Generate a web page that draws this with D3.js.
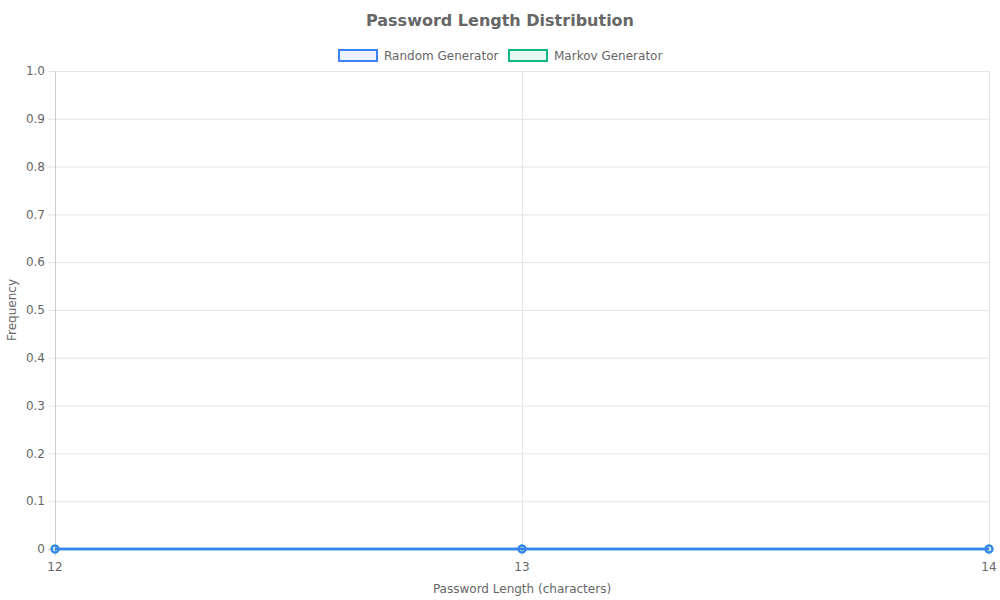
<!DOCTYPE html>
<html><head><meta charset="utf-8">
<script src="https://cdn.jsdelivr.net/npm/d3@7"></script>
<style>body{margin:0;background:#fff;}svg{display:block;font-family:"DejaVu Sans",sans-serif;}</style>
</head><body>
<svg id="c" width="1000" height="600"></svg>
<script>
const categories = [12, 13, 14];
const randomValues = [0, 0, 0];
const markovValues = [0, 0, 0];
const yTicks = [0, 0.1, 0.2, 0.3, 0.4, 0.5, 0.6, 0.7, 0.8, 0.9, 1.0];
const seriesNames = ["Random Generator", "Markov Generator"];
const seriesColors = ["#3b82f6", "#10b981"];
const seriesFills = ["rgba(59,130,246,0.1)", "rgba(16,185,129,0.1)"];

const svg = d3.select("#c");
const L = 55, R = 989, T = 71, B = 549;
const x = d3.scaleLinear().domain([12, 14]).range([L, R]);
const y = d3.scaleLinear().domain([0, 1]).range([B, T]);
const txt = "#666";

// grid
const gy = svg.append("g");
yTicks.forEach(t => {
  gy.append("line").attr("x1", L - 7).attr("x2", R).attr("y1", y(t) + 0.5).attr("y2", y(t) + 0.5)
    .attr("stroke", t === 0 ? "#ccc" : "#e5e5e5").attr("stroke-width", 1);
  gy.append("text").attr("x", L - 10).attr("y", y(t)).attr("dy", "0.35em").attr("text-anchor", "end")
    .attr("font-size", 12).attr("fill", txt).text(t === 0 ? "0" : t.toFixed(1));
});
categories.forEach(c => {
  svg.append("line").attr("x1", x(c) + 0.5).attr("x2", x(c) + 0.5).attr("y1", T).attr("y2", B + 7)
    .attr("stroke", c === 12 ? "#ccc" : "#e5e5e5");
  svg.append("text").attr("x", x(c)).attr("y", B + 18).attr("dy", "0.35em").attr("text-anchor", "middle")
    .attr("font-size", 12).attr("fill", txt).text(c);
});

// series (markov first so random on top)
const data = [randomValues, markovValues];
[1, 0].forEach(i => {
  const pts = categories.map((c, j) => [c, data[i][j]]);
  svg.append("path").datum(pts)
    .attr("d", d3.line().x(d => x(d[0])).y(d => y(d[1])))
    .attr("fill", "none").attr("stroke", seriesColors[i]).attr("stroke-width", 2.5);
  svg.selectAll(null).data(pts).enter().append("circle")
    .attr("cx", d => x(d[0])).attr("cy", d => y(d[1])).attr("r", 3.5)
    .attr("fill", seriesFills[i]).attr("stroke", seriesColors[i]).attr("stroke-width", 2);
});

// title
svg.append("text").attr("x", 500).attr("y", 20).attr("dy", "0.35em").attr("text-anchor", "middle")
  .attr("font-size", 16).attr("font-weight", "bold").attr("fill", txt).text("Password Length Distribution");

// legend
const legendX = [338, 508];
seriesNames.forEach((n, i) => {
  svg.append("rect").attr("x", legendX[i] + 1).attr("y", 50).attr("width", 38).attr("height", 11)
    .attr("fill", seriesFills[i]).attr("stroke", seriesColors[i]).attr("stroke-width", 2);
  svg.append("text").attr("x", legendX[i] + 46).attr("y", 56).attr("dy", "0.35em")
    .attr("font-size", 12).attr("fill", txt).text(n);
});

// axis titles
svg.append("text").attr("x", (L + R) / 2).attr("y", 589).attr("dy", "0.35em").attr("text-anchor", "middle")
  .attr("font-size", 12).attr("fill", txt).text("Password Length (characters)");
svg.append("text").attr("transform", `translate(12,${(T + B) / 2}) rotate(-90)`).attr("dy", "0.35em")
  .attr("text-anchor", "middle").attr("font-size", 12).attr("fill", txt).text("Frequency");
</script>
</body></html>
